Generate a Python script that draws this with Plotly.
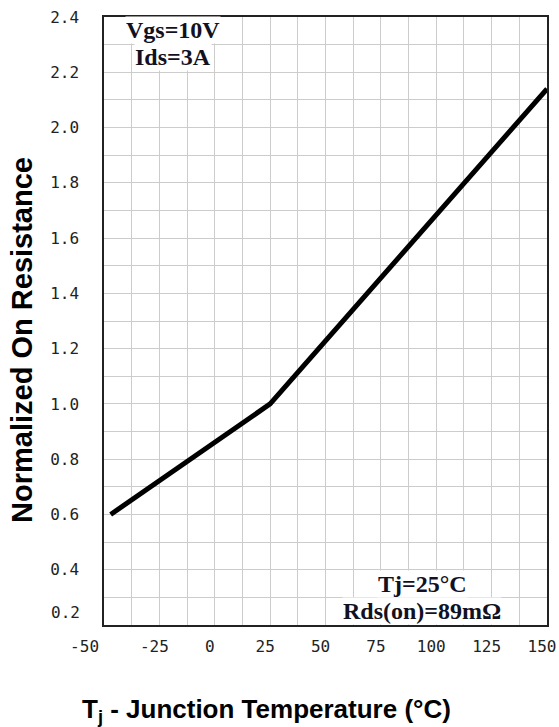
import plotly.graph_objects as go

# Data
temps = [-47, 25, 150]
rds_norm = [0.6, 1.0, 2.14]

x_tickvals = [-50, -25, 0, 25, 50, 75, 100, 125, 150]
x_ticktext = ["-50\u00a0\u00a0\u00a0", "-25", "0", "25", "50", "75", "100", "125", "150"]
y_tickvals = [0.4, 0.6, 0.8, 1.0, 1.2, 1.4, 1.6, 1.8, 2.0, 2.2, 2.4]
y_ticktext = ["0.4", "0.6", "0.8", "1.0", "1.2", "1.4", "1.6", "1.8", "2.0", "2.2", "2.4"]
y_bottom_label = "0.2"

x_title = "T<sub>j</sub> - Junction Temperature (°C)"
y_title = "Normalized On Resistance"
cond_top = ["Vgs=10V", "Ids=3A"]
cond_bottom = ["Tj=25°C", "Rds(on)=89mΩ"]

tick_font = dict(family="DejaVu Sans Mono", size=16, color="#222222")
title_font_x = dict(family="Liberation Sans, Arial", size=26, color="black")
title_font_y = dict(family="Liberation Sans, Arial", size=29, color="black")
note_font = dict(family="Liberation Serif, Times New Roman", size=24, color="#111122")

grid_color = "#cccccc"

fig = go.Figure()
fig.add_trace(go.Scatter(
    x=temps, y=rds_norm, mode="lines",
    line=dict(color="black", width=5),
    showlegend=False, hoverinfo="skip", cliponaxis=True,
))

fig.update_layout(
    width=559, height=727,
    margin=dict(l=104, r=12, t=17, b=102, autoexpand=False),
    paper_bgcolor="white", plot_bgcolor="white",
    xaxis=dict(
        range=[-50, 150], tickvals=x_tickvals, ticktext=x_ticktext,
        tickfont=tick_font, ticks="outside", ticklen=6, tickcolor="rgba(0,0,0,0)",
        ticklabelshift=-5, automargin=False,
        showgrid=True, gridcolor=grid_color, gridwidth=1,
        minor=dict(dtick=12.5, tick0=0, showgrid=True, gridcolor=grid_color, gridwidth=1),
        showline=True, linecolor="#222222", linewidth=1.5, mirror=True,
        zeroline=False, layer="above traces",
    ),
    yaxis=dict(
        range=[0.2, 2.4], tickvals=y_tickvals, ticktext=y_ticktext,
        tickfont=tick_font, ticks="outside", ticklen=20, tickcolor="rgba(0,0,0,0)",
        automargin=False,
        showgrid=True, gridcolor=grid_color, gridwidth=1,
        minor=dict(dtick=0.1, tick0=0, showgrid=True, gridcolor=grid_color, gridwidth=1),
        showline=True, linecolor="#222222", linewidth=1.5, mirror=True,
        zeroline=False, layer="above traces",
    ),
)

annotations = [
    dict(text=f"<b>{x_title}</b>", xref="paper", yref="paper", x=0.366, y=-0.14,
         xanchor="center", yanchor="middle", showarrow=False, font=title_font_x),
    dict(text=f"<b>{y_title}</b>", xref="paper", yref="paper", x=-0.185, y=0.469,
         xanchor="center", yanchor="middle", textangle=-90, showarrow=False, font=title_font_y),
    dict(text=y_bottom_label, xref="paper", yref="y", x=0, y=0.2, xanchor="right",
         yanchor="middle", xshift=-22, yshift=13, showarrow=False, font=tick_font),
    dict(text=f"<b>{cond_top[0]}</b>", xref="paper", yref="paper", x=(173 - 104) / 443, y=(625 - 30) / 608,
         xanchor="center", yanchor="middle", showarrow=False, font=note_font, bgcolor="white", borderpad=0),
    dict(text=f"<b>{cond_top[1]}</b>", xref="paper", yref="paper", x=(173 - 104) / 443, y=(625 - 57) / 608,
         xanchor="center", yanchor="middle", showarrow=False, font=note_font, bgcolor="white", borderpad=0),
    dict(text=f"<b>{cond_bottom[0]}</b>", xref="paper", yref="paper", x=(422 - 104) / 443, y=(625 - 584) / 608,
         xanchor="center", yanchor="middle", showarrow=False, font=note_font, bgcolor="white", borderpad=0),
    dict(text=f"<b>{cond_bottom[1]}</b>", xref="paper", yref="paper", x=(422 - 104) / 443, y=(625 - 611) / 608,
         xanchor="center", yanchor="middle", showarrow=False, font=note_font, bgcolor="white", borderpad=0),
]
fig.update_layout(annotations=annotations)

fig.write_html("out.html", config={"displayModeBar": False},
               post_script="document.body.style.margin='0';")
